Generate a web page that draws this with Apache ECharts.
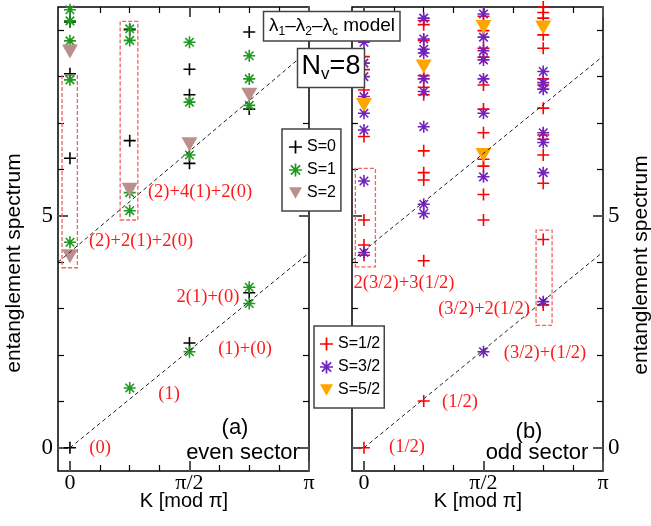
<!DOCTYPE html>
<html>
<head>
<meta charset="utf-8">
<script src="https://cdn.jsdelivr.net/npm/echarts@6/dist/echarts.min.js"></script>
<style>
html, body { margin: 0; padding: 0; background: #fff; }
#chart { width: 651px; height: 526px; }
</style>
</head>
<body>
<div id="chart"></div>
<script>
// K in units of pi, level
var evenS0 = [[0, 0], [0, 6.24], [0, 8.06], [0, 9.18],
  [0.25, 6.62], [0.25, 9.01],
  [0.5, 2.26], [0.5, 6.13], [0.5, 7.61], [0.5, 8.16],
  [0.75, 3.34], [0.75, 7.30], [0.75, 8.96]];
var evenS1 = [[0, 4.43], [0, 7.93], [0, 8.77], [0, 9.20], [0, 9.44],
  [0.25, 1.29], [0.25, 5.11], [0.25, 5.50], [0.25, 8.78], [0.25, 9.03],
  [0.5, 2.07], [0.5, 6.31], [0.5, 7.45], [0.5, 8.74],
  [0.75, 3.11], [0.75, 3.46], [0.75, 7.38], [0.75, 7.95], [0.75, 8.45]];
var evenS2 = [[0, 4.13], [0, 8.54], [0.25, 5.56], [0.5, 6.54], [0.75, 7.61]];

var oddS12 = [[0, 0], [0, 4.15], [0, 4.37], [0, 4.91], [0, 6.71], [0, 7.71], [0, 8.15], [0, 8.43],
  [0.25, 1.01], [0.25, 4.03], [0.25, 5.77], [0.25, 5.93], [0.25, 6.40], [0.25, 7.61], [0.25, 7.77],
  [0.25, 8.02], [0.25, 8.78], [0.25, 9.12], [0.25, 9.21],
  [0.5, 4.91], [0.5, 5.46], [0.5, 6.07], [0.5, 6.22], [0.5, 6.79], [0.5, 7.30], [0.5, 7.82],
  [0.5, 8.42], [0.5, 8.61], [0.5, 8.99], [0.5, 9.30],
  [0.75, 3.08], [0.75, 4.49], [0.75, 5.70], [0.75, 6.31], [0.75, 6.65], [0.75, 6.74], [0.75, 7.32],
  [0.75, 7.82], [0.75, 7.95], [0.75, 8.61], [0.75, 8.90], [0.75, 9.26], [0.75, 9.38], [0.75, 9.50]];
var oddS32 = [[0, 4.21], [0, 5.75], [0, 6.85], [0, 7.21], [0, 7.57], [0, 8.00], [0, 8.29], [0, 8.74],
  [0.25, 5.05], [0.25, 5.25], [0.25, 6.92], [0.25, 7.68], [0.25, 7.95], [0.25, 8.51], [0.25, 8.59],
  [0.25, 8.81], [0.25, 9.26],
  [0.5, 2.07], [0.5, 5.84], [0.5, 7.21], [0.5, 7.95], [0.5, 8.36], [0.5, 8.56], [0.5, 8.85], [0.5, 9.35],
  [0.75, 3.15], [0.75, 5.93], [0.75, 6.58], [0.75, 6.79], [0.75, 7.73], [0.75, 7.87], [0.75, 8.11]];
var oddS52 = [[0, 7.39], [0.25, 8.22], [0.5, 6.31], [0.5, 9.07], [0.75, 9.06]];

// dashed guide lines
var evenLow = [[0, 0], [1, 4.2]];
var evenHigh = [[-0.05, 4.0], [1, 8.57]];
var oddLow = [[0, 0], [1, 4.22]];
var oddHigh = [[-0.05, 4.04], [1, 8.44]];

// dashed boxes [x0, y0, x1, y1]
var evenBoxes = [[-0.033, 3.88, 0.031, 8.02], [0.21, 4.91, 0.284, 9.19]];
var oddBoxes = [[-0.036, 3.90, 0.048, 6.02], [0.72, 2.64, 0.787, 4.69]];

var xMajor = [0, 0.5, 1];
var xMinor = [0.125, 0.25, 0.375, 0.625, 0.75, 0.875];
var xTickLabels = ['0', 'π/2', 'π'];
var yMajor = [0, 5];
var yMinor = [1, 2, 3, 4, 6, 7, 8, 9];

var SANS = 'Liberation Sans';
var SERIF = 'Liberation Serif';

var chart = echarts.init(document.getElementById('chart'));

function bar(a) {
  var c = 12, L = 12, h = 1.6;
  var dx = Math.cos(a), dy = Math.sin(a), nx = -dy, ny = dx;
  var p = [[c - L * dx - h * nx, c - L * dy - h * ny], [c + L * dx - h * nx, c + L * dy - h * ny],
    [c + L * dx + h * nx, c + L * dy + h * ny], [c - L * dx + h * nx, c - L * dy + h * ny]];
  return 'M' + p.map(function (q) { return q[0].toFixed(2) + ',' + q[1].toFixed(2); }).join('L') + 'Z';
}
var plusPath = 'path://' + bar(0) + bar(Math.PI / 2);
var starPath = 'path://' + bar(0) + bar(Math.PI / 4) + bar(Math.PI / 2) + bar(3 * Math.PI / 4);
var triPath = 'path://M0,0L16,0L8,14Z';

function axis(dim, g, pos, major, label) {
  var ax = {
    type: 'value', gridIndex: g, position: pos,
    min: dim == 'x' ? -0.05 : -0.5,
    max: dim == 'x' ? 1 : 9.5,
    axisLine: { show: false, onZero: false },
    splitLine: { show: false },
    axisTick: {
      show: true, inside: true, length: major ? 10 : 6,
      customValues: dim == 'x' ? (major ? xMajor : xMinor) : (major ? yMajor : yMinor),
      lineStyle: { color: major ? '#555' : '#000', width: major ? 2 : 1.2 }
    },
    axisLabel: { show: false }
  };
  if (label) {
    ax.axisLabel = {
      show: true,
      customValues: dim == 'x' ? xMajor : yMajor,
      margin: dim == 'x' ? 1 : 5,
      fontFamily: SERIF, fontSize: dim == 'x' ? 22 : 23, color: '#000',
      formatter: function (v) {
        return dim == 'x' ? xTickLabels[xMajor.indexOf(v)] : String(v);
      }
    };
  }
  return ax;
}

function xAxes(g) {
  return [axis('x', g, 'bottom', true, true), axis('x', g, 'bottom', false),
    axis('x', g, 'top', true), axis('x', g, 'top', false)];
}
function yAxes(g, side) {
  var other = side == 'left' ? 'right' : 'left';
  return [axis('y', g, side, true, true), axis('y', g, side, false),
    axis('y', g, other, true), axis('y', g, other, false)];
}

function points(name, data, g, sym, size, color) {
  return {
    name: name, type: 'scatter', data: data,
    xAxisIndex: g * 4, yAxisIndex: g * 4,
    symbol: sym, symbolSize: size,
    itemStyle: { color: color, opacity: 1 },
    silent: true
  };
}

function guide(data, g, boxes) {
  var s = {
    type: 'line', data: data, xAxisIndex: g * 4, yAxisIndex: g * 4,
    showSymbol: false, silent: true,
    lineStyle: { color: '#222', width: 1, type: [4, 3] }
  };
  if (boxes) {
    s.markArea = {
      silent: true,
      label: { show: false },
      itemStyle: { color: 'rgba(0,0,0,0)', borderColor: '#f26464', borderWidth: 1.3, borderType: [4, 2] },
      data: boxes.map(function (b) { return [{ coord: [b[0], b[1]] }, { coord: [b[2], b[3]] }]; })
    };
  }
  return s;
}

function note(t, x, y) {
  return { type: 'text', x: x, y: y, z: 20,
    style: { text: t, fill: '#ff1a1a', fontFamily: SERIF, fontSize: 18.5, align: 'center', verticalAlign: 'middle' } };
}
function tag(t, x, y, size, rot) {
  return { type: 'text', x: x, y: y, z: 20, rotation: rot || 0,
    style: { text: t, fill: '#000', fontFamily: SANS, fontSize: size, align: 'center', verticalAlign: 'middle' } };
}

var legendStyle = {
  orient: 'vertical', itemWidth: 13, itemHeight: 13, itemGap: 7,
  backgroundColor: '#fff', borderColor: '#444', borderWidth: 1.5, borderRadius: 0,
  textStyle: { fontFamily: SANS, fontSize: 16, color: '#000' },
  selectedMode: false
};

chart.setOption({
  animation: false,
  grid: [
    { left: 58, top: 7, width: 251, height: 464, show: true, borderColor: '#000', borderWidth: 1.5 },
    { left: 352, top: 7, width: 251, height: 464, show: true, borderColor: '#000', borderWidth: 1.5 }
  ],
  xAxis: xAxes(0).concat(xAxes(1)),
  yAxis: yAxes(0, 'left').concat(yAxes(1, 'right')),
  legend: [
    Object.assign({}, legendStyle, {
      left: 282, top: 129, padding: [10, 5, 10, 7],
      data: [{ name: 'S=0', icon: plusPath }, { name: 'S=1', icon: starPath }, { name: 'S=2', icon: triPath }]
    }),
    Object.assign({}, legendStyle, {
      left: 314, top: 326, padding: [10, 4, 10, 6],
      data: [{ name: 'S=1/2', icon: plusPath }, { name: 'S=3/2', icon: starPath }, { name: 'S=5/2', icon: triPath }]
    })
  ],
  series: [
    guide(evenLow, 0, evenBoxes), guide(evenHigh, 0),
    guide(oddLow, 1, oddBoxes), guide(oddHigh, 1),
    points('S=0', evenS0, 0, plusPath, 12, '#000'),
    points('S=1', evenS1, 0, starPath, 12, '#1f9a1f'),
    points('S=2', evenS2, 0, triPath, [16, 14], '#bc8f8f'),
    points('S=1/2', oddS12, 1, plusPath, 12, '#ff0000'),
    points('S=3/2', oddS32, 1, starPath, 12, '#7221bc'),
    points('S=5/2', oddS52, 1, triPath, [16, 14], '#ffa500')
  ],
  graphic: [
    note('(0)', 100, 448), note('(1)', 169, 394), note('(1)+(0)', 245, 349),
    note('2(1)+(0)', 208, 297), note('(2)+2(1)+2(0)', 141, 241), note('(2)+4(1)+2(0)', 200, 192),
    note('(1/2)', 407, 447), note('(1/2)', 460, 402), note('(3/2)+(1/2)', 545, 353),
    note('(3/2)+2(1/2)', 484, 309), note('2(3/2)+3(1/2)', 404, 283),
    tag('(a)', 235, 428, 22), tag('even sector', 243, 453, 22),
    tag('(b)', 529, 432, 22), tag('odd sector', 537, 453, 22),
    tag('K [mod π]', 184, 501, 20), tag('K [mod π]', 478, 501, 20),
    tag('entanglement spectrum', 14, 263, 21, Math.PI / 2),
    tag('entanglement spectrum', 641, 265, 21, Math.PI / 2),
    { type: 'rect', z: 30, shape: { x: 263.5, y: 11.5, width: 136.5, height: 29.5 },
      style: { fill: '#fff', stroke: '#444', lineWidth: 1.5 } },
    { type: 'text', z: 31, x: 332, y: 26,
      style: { text: '{a|λ}{s|1}{a|–λ}{s|2}{a|–λ}{s|c}{a| model}', align: 'center', verticalAlign: 'middle', fill: '#000',
        rich: { a: { fontFamily: SANS, fontSize: 19, lineHeight: 24 },
          s: { fontFamily: SANS, fontSize: 12, lineHeight: 12, verticalAlign: 'bottom' } } } },
    { type: 'rect', z: 30, shape: { x: 297.5, y: 48.5, width: 67, height: 39 },
      style: { fill: '#fff', stroke: '#444', lineWidth: 1.5 } },
    { type: 'text', z: 31, x: 331, y: 67,
      style: { text: '{a|N}{s|v}{a|=8}', align: 'center', verticalAlign: 'middle', fill: '#000',
        rich: { a: { fontFamily: SANS, fontSize: 27, lineHeight: 32 },
          s: { fontFamily: SANS, fontSize: 17, lineHeight: 17, verticalAlign: 'bottom' } } } }
  ]
});
</script>
</body>
</html>
